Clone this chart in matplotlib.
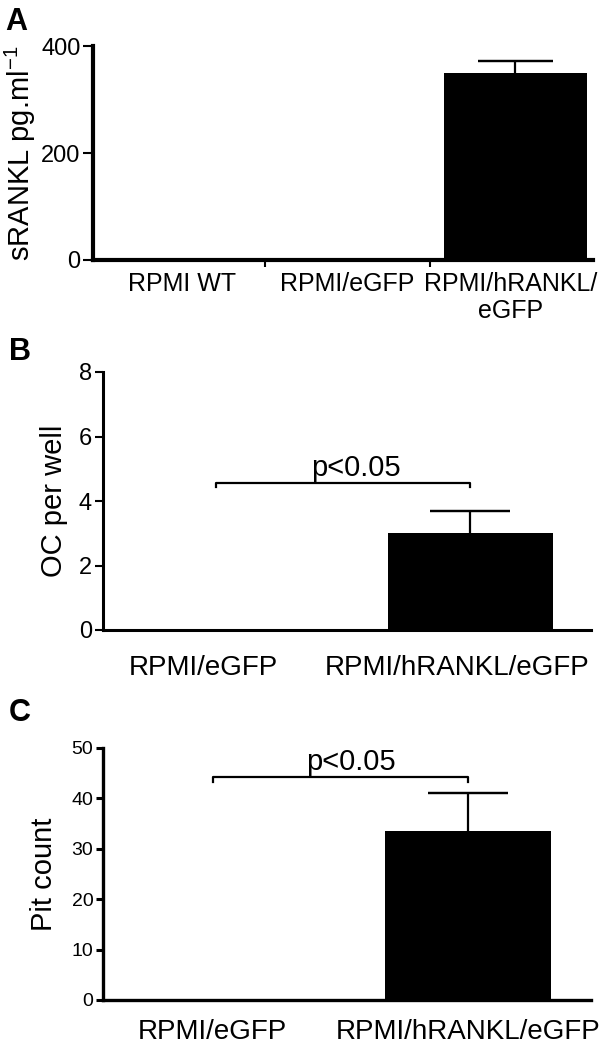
import matplotlib
matplotlib.use("Agg")
import matplotlib.pyplot as plt
import matplotlib.transforms as mtransforms

plt.rcParams['font.family'] = ['Liberation Sans', 'DejaVu Sans']
plt.rcParams['mathtext.fontset'] = 'custom'
plt.rcParams['mathtext.rm'] = 'Liberation Sans'
plt.rcParams['mathtext.it'] = 'Liberation Sans'

# ---- data ----
a_categories = ["RPMI WT", "RPMI/eGFP", "RPMI/hRANKL/\neGFP"]
a_values = [0, 0, 350]
a_errors = [0, 0, 22]
a_yticks = [0, 200, 400]

b_categories = ["RPMI/eGFP", "RPMI/hRANKL/eGFP"]
b_values = [0, 3.0]
b_errors = [0, 0.7]
b_yticks = [0, 2, 4, 6, 8]
b_pvalue = "p<0.05"
b_bracket_y = 4.56

c_categories = ["RPMI/eGFP", "RPMI/hRANKL/eGFP"]
c_values = [0, 33.5]
c_errors = [0, 7.5]
c_yticks = [0, 10, 20, 30, 40, 50]
c_pvalue = "p<0.05"
c_bracket_y = 44.2

W, H = 605, 1047
fig = plt.figure(figsize=(W / 100, H / 100), dpi=100)


def px_axes(left, right, top, bottom):
    return fig.add_axes([left / W, 1 - bottom / H, (right - left) / W, (bottom - top) / H])


def style(ax, spine_w, tick_len, tick_w, labelsize):
    for s in ["top", "right"]:
        ax.spines[s].set_visible(False)
    ax.spines["left"].set_linewidth(spine_w)
    ax.spines["bottom"].set_linewidth(spine_w)
    ax.tick_params(axis="y", direction="out", length=tick_len, width=tick_w,
                   labelsize=labelsize, pad=2)


def bars(ax, xs, vals, errs, width, capsize):
    ax.bar(xs, vals, width=width, color="black", zorder=2)
    for x, v, e in zip(xs, vals, errs):
        if e > 0:
            ax.errorbar([x], [v + e / 2], yerr=[[e / 2], [e / 2]], fmt="none", ecolor="black",
                        elinewidth=1.6, capsize=0, zorder=3)
            ax.errorbar([x], [v + e], yerr=[[0], [0]], fmt="none", ecolor="black",
                        elinewidth=1.6, capsize=capsize, capthick=1.6, zorder=3)


# ---------- Panel A ----------
axA = px_axes(93, 593, 46, 260)
xa = [0, 1, 1.99]
bars(axA, [0, 1, 2.02], a_values, a_errors, 0.87, 27)
axA.set_xlim(-0.54, 2.49)
axA.set_ylim(0, 400)
axA.set_yticks(a_yticks)
style(axA, 3.0, 7, 1.5, 17)
axA.set_xticks([0.5, 1.5])
axA.set_xticklabels(["", ""])
axA.tick_params(axis="x", direction="out", length=5, width=1.5)
for x, lab in zip(xa, a_categories):
    axA.text(x, -0.055, lab, transform=axA.get_xaxis_transform(), ha="center", va="top",
             fontsize=18, linespacing=1.15)
axA.set_ylabel(r"sRANKL pg.ml$^{\mathrm{-1}}$", fontsize=21, labelpad=2)
fig.text(5 / W, 1 - 22 / H, "A", fontsize=22, fontweight="bold", va="center", ha="left")

# ---------- Panel B ----------
axB = px_axes(103, 591, 372, 630)
bars(axB, [0, 1], b_values, b_errors, 0.65, 29)
axB.set_xlim(-0.445, 1.476)
axB.set_ylim(0, 8)
axB.set_yticks(b_yticks)
style(axB, 2.2, 6, 1.5, 17)
axB.set_xticks([0, 1])
axB.set_xticklabels(b_categories, fontsize=20)
axB.tick_params(axis="x", length=0, pad=18)
offB = mtransforms.ScaledTranslation(-13 / 100, 0, fig.dpi_scale_trans)
for t in axB.get_xticklabels():
    t.set_transform(t.get_transform() + offB)
axB.plot([0, 0, 1, 1], [b_bracket_y - 0.12, b_bracket_y, b_bracket_y, b_bracket_y - 0.12],
         color="black", lw=1.6, zorder=4)
axB.text(0.55, b_bracket_y + 0.45, b_pvalue, ha="center", va="center", fontsize=21)
axB.set_ylabel("OC per well", fontsize=21, labelpad=8)
fig.text(9 / W, 1 - 352 / H, "B", fontsize=22, fontweight="bold", va="center", ha="left")

# ---------- Panel C ----------
axC = px_axes(103, 591, 748, 1000)
bars(axC, [0, 1], c_values, c_errors, 0.65, 29)
axC.set_xlim(-0.43, 1.48)
axC.set_ylim(0, 50)
axC.set_yticks(c_yticks)
style(axC, 2.4, 5, 2.2, 14)
axC.set_xticks([0, 1])
axC.set_xticklabels(c_categories, fontsize=20)
axC.tick_params(axis="x", length=0, pad=14)
axC.plot([0, 0, 1, 1], [c_bracket_y - 1.0, c_bracket_y, c_bracket_y, c_bracket_y - 1.0],
         color="black", lw=1.6, zorder=4)
axC.text(0.54, c_bracket_y + 3.0, c_pvalue, ha="center", va="center", fontsize=21)
axC.set_ylabel("Pit count", fontsize=21, labelpad=10)
fig.text(9 / W, 1 - 713 / H, "C", fontsize=22, fontweight="bold", va="center", ha="left")

fig.savefig("out.png", dpi=100, facecolor="white")
